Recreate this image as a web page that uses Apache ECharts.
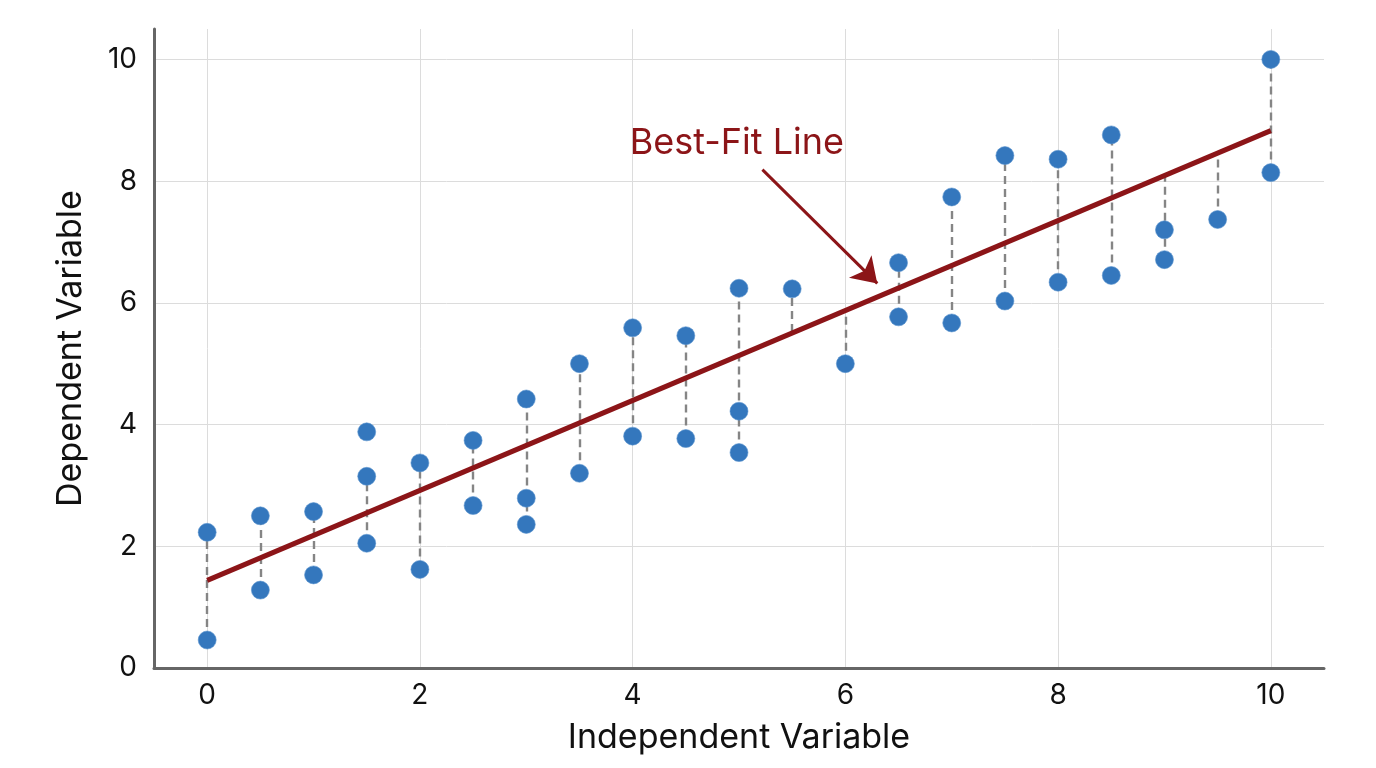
<!DOCTYPE html>
<html>
<head>
<meta charset="utf-8">
<title>Best-Fit Line</title>
<script src="https://cdn.jsdelivr.net/npm/echarts@6/dist/echarts.min.js"></script>
<style>
  html, body { margin: 0; padding: 0; background: #fff; }
  #chart { width: 1376px; height: 768px; }
</style>
</head>
<body>
<div id="chart"></div>
<script>
// observed points
const pointX = [0, 0, 0.5, 0.5, 1, 1, 1.5, 1.5, 1.5, 2, 2, 2.5, 2.5, 3, 3, 3, 3.5, 3.5, 4, 4,
  4.5, 4.5, 5, 5, 5, 5.5, 6, 6.5, 6.5, 7, 7, 7.5, 7.5, 8, 8, 8.5, 8.5, 9, 9, 9.5, 10, 10];
const pointY = [2.23, 0.46, 2.50, 1.28, 2.57, 1.53, 3.88, 3.15, 2.05, 3.37, 1.62, 3.74, 2.67, 4.42, 2.79, 2.36, 5.00, 3.20, 5.59, 3.81,
  5.46, 3.77, 6.24, 4.22, 3.54, 6.23, 5.00, 6.66, 5.77, 7.74, 5.67, 8.42, 6.03, 8.36, 6.34, 8.76, 6.45, 7.20, 6.71, 7.37, 10.00, 8.14];

// best-fit line end points
const fitX = [0, 10];
const fitY = [1.44, 8.83];

// dashed residual segments: x, low end, high end
const residX = [0, 0.5, 1, 1.5, 2, 2.5, 3, 3.5, 4, 4.5, 5, 5.5, 6, 6.5, 7, 7.5, 8, 8.5, 9, 9.5, 10];
const residLow = [0.46, 1.28, 1.53, 2.05, 1.62, 2.67, 2.36, 3.20, 3.81, 3.77, 3.54, 5.52, 5.00, 5.77, 5.67, 6.03, 6.34, 6.45, 6.71, 7.37, 8.14];
const residHigh = [2.23, 2.50, 2.57, 3.15, 3.37, 3.74, 4.42, 5.00, 5.59, 5.46, 6.24, 6.23, 5.88, 6.66, 7.74, 8.42, 8.36, 8.76, 8.09, 8.47, 10.00];

// y tick labels
const yTicks = [0, 2, 4, 6, 8, 10];

// annotation
const noteText = 'Best-Fit Line';
const notePos = [4.98, 8.63];
const arrowFrom = [5.22, 8.19];
const arrowTo = [6.30, 6.32];

const FONT = 'Inter, "Noto Sans", sans-serif';
const RED = '#8c1518';
const BLUE = '#3477bd';

const chart = echarts.init(document.getElementById('chart'));

const scatterData = pointX.map((x, i) => [x, pointY[i]]);
const fitData = fitX.map((x, i) => [x, fitY[i]]);
const residData = residX.map((x, i) => ({ coords: [[x, residLow[i]], [x, residHigh[i]]] }));

const option = {
  backgroundColor: '#fff',
  animation: false,
  grid: { left: 154, right: 52, top: 29, bottom: 100, containLabel: false },
  xAxis: {
    type: 'value',
    min: -0.5,
    max: 10.5,
    splitNumber: 5,
    name: 'Independent Variable',
    nameLocation: 'middle',
    nameGap: 53,
    nameTextStyle: { fontFamily: FONT, fontSize: 34, color: '#111' },
    axisLine: { show: true, onZero: false, lineStyle: { color: '#666', width: 3 } },
    axisTick: { show: false },
    axisLabel: {
      fontFamily: FONT, fontSize: 28, color: '#111', margin: 14,
      showMinLabel: false, showMaxLabel: false,
      formatter: v => (Number.isInteger(v) ? String(v) : '')
    },
    splitLine: { show: true, showMinLine: false, showMaxLine: false, lineStyle: { color: '#dcdcdc', width: 1 } }
  },
  yAxis: {
    type: 'value',
    min: 0,
    max: 10.5,
    interval: 2,
    name: 'Dependent Variable',
    nameLocation: 'middle',
    nameGap: 66,
    nameTextStyle: { fontFamily: FONT, fontSize: 34, color: '#111' },
    axisLine: { show: true, onZero: false, lineStyle: { color: '#666', width: 3 } },
    axisTick: { show: false },
    axisLabel: {
      fontFamily: FONT, fontSize: 28, color: '#111', margin: 17,
      showMaxLabel: false,
      formatter: v => (yTicks.includes(v) ? String(v) : '')
    },
    splitLine: { show: true, showMinLine: false, showMaxLine: false, lineStyle: { color: '#dcdcdc', width: 1 } }
  },
  series: [
    {
      type: 'lines',
      coordinateSystem: 'cartesian2d',
      z: 1,
      silent: true,
      lineStyle: { color: '#858585', width: 2.4, type: [8, 5], opacity: 1 },
      data: residData
    },
    {
      type: 'line',
      z: 2,
      data: fitData,
      showSymbol: false,
      lineStyle: { color: RED, width: 5 },
      markLine: {
        silent: true,
        symbol: ['none', 'arrow'],
        symbolSize: 24,
        lineStyle: { color: RED, width: 3, type: 'solid' },
        label: { show: false },
        data: [[{ coord: arrowFrom }, { coord: arrowTo }]]
      },
      markPoint: {
        silent: true,
        symbol: 'circle',
        symbolSize: 0,
        label: {
          show: true,
          formatter: noteText,
          fontFamily: FONT,
          fontSize: 36,
          color: RED
        },
        data: [{ coord: notePos }]
      }
    },
    {
      type: 'scatter',
      z: 3,
      data: scatterData,
      symbolSize: 18,
      itemStyle: { color: BLUE, borderColor: '#5a93cf', borderWidth: 0.6, opacity: 1 }
    }
  ]
};

chart.setOption(option);
</script>
</body>
</html>
